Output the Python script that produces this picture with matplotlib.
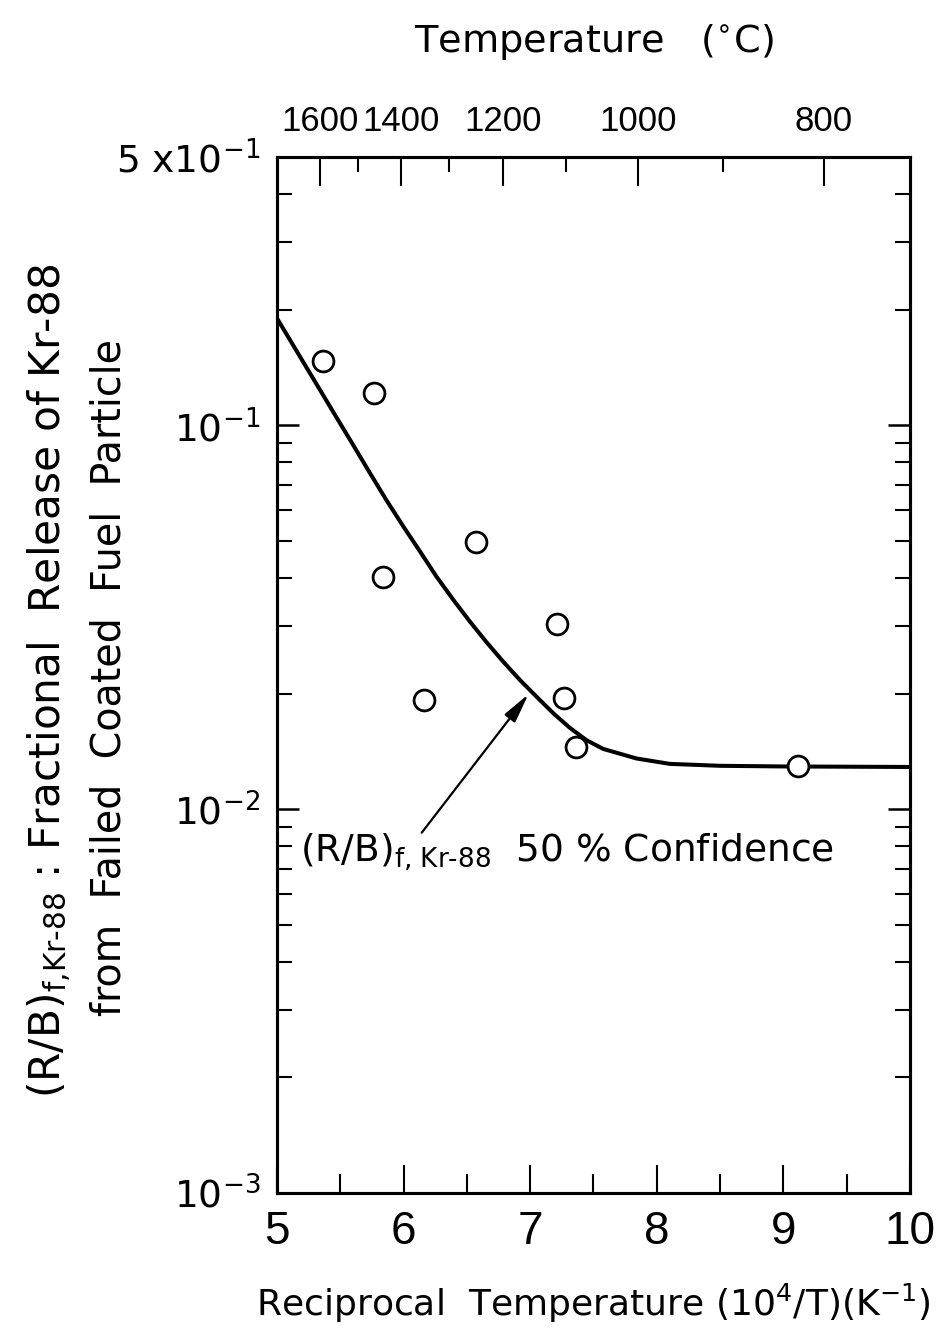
import numpy as np
import matplotlib
matplotlib.use("Agg")
import matplotlib.pyplot as plt
from matplotlib.ticker import LogLocator, NullFormatter, FixedLocator

plt.rcParams['font.family'] = ['DejaVu Sans']
plt.rcParams['mathtext.fontset'] = 'dejavusans'

# measured points (10^4/T, fractional release)
x_pts = [5.366, 5.769, 5.840, 6.161, 6.569, 7.209, 7.267, 7.362, 9.115]
y_pts = [0.1472, 0.1216, 0.0402, 0.01925, 0.0496, 0.0304, 0.01945, 0.01456, 0.01296]

# 50 % confidence curve
x_fit = [5.0, 5.208, 5.340, 5.471, 5.603, 5.735, 5.866, 5.998, 6.130, 6.261, 6.393,
         6.524, 6.656, 6.788, 6.919, 7.051, 7.182, 7.314, 7.446, 7.577, 7.841, 8.104,
         8.5, 9.0, 10.0]
y_fit = [0.1900, 0.1460, 0.1236, 0.1047, 0.0887, 0.0750, 0.0637, 0.0545, 0.0469, 0.0403,
         0.0351, 0.0308, 0.0272, 0.0242, 0.0217, 0.01962, 0.01778, 0.01628, 0.01512,
         0.01435, 0.01355, 0.01312, 0.01297, 0.01292, 0.01288]

# top axis temperatures (deg C)
temp_major = [1600, 1400, 1200, 1000, 800]
temp_minor = [1500, 1300, 1100, 900]

tick_font = ['Liberation Sans', 'DejaVu Sans']

fig = plt.figure(figsize=(9.38, 13.29), dpi=100)
ax = fig.add_axes([0.2953, 0.1023, 0.6748, 0.7796])

ax.plot(x_fit, y_fit, color='k', lw=2.9, solid_capstyle='butt', solid_joinstyle='round')
ax.plot(x_pts, y_pts, 'o', ms=15, mfc='white', mec='k', mew=2.0, zorder=3)

ax.set_yscale('log')
ax.set_xlim(5, 10)
ax.set_ylim(1e-3, 0.5)

ax.set_xticks([5, 6, 7, 8, 9, 10])
ax.set_xticklabels(['5', '6', '7', '8', '9', '10'], family=tick_font, fontsize=33)
ax.set_xticks([5.5, 6.5, 7.5, 8.5, 9.5], minor=True)

ax.set_yticks([1e-3, 1e-2, 1e-1, 0.5])
ax.set_yticklabels(['10$^{-3}$', '10$^{-2}$', '10$^{-1}$', '5 x10$^{-1}$'], fontsize=27)
ax.yaxis.set_minor_locator(LogLocator(base=10, subs=np.arange(2, 10)))
ax.yaxis.set_minor_formatter(NullFormatter())

ax.tick_params(axis='x', which='major', direction='in', length=20, width=1.5, pad=12, top=False)
ax.tick_params(axis='x', which='minor', direction='in', length=14, width=1.5, top=False)
ax.tick_params(axis='y', which='major', direction='in', length=16, width=1.8, pad=12, right=True)
ax.tick_params(axis='y', which='minor', direction='in', length=11, width=1.5, right=True)
for s in ax.spines.values():
    s.set_linewidth(2.2)

ax.set_xlabel('Reciprocal  Temperature (10$^{4}$/T)(K$^{-1}$)', fontsize=26, labelpad=20)

# top temperature axis
ax2 = ax.twiny()
ax2.set_xlim(ax.get_xlim())
ax2.set_xticks([1e4 / (t + 273.15) for t in temp_major])
ax2.set_xticklabels([str(t) for t in temp_major], family=tick_font, fontsize=25)
ax2.xaxis.set_minor_locator(FixedLocator([1e4 / (t + 273.15) for t in temp_minor]))
ax2.tick_params(axis='x', which='major', direction='in', length=21, width=1.5, pad=14)
ax2.tick_params(axis='x', which='minor', direction='in', length=11, width=1.5)
for s in ax2.spines.values():
    s.set_linewidth(2.2)
ax2.set_xlabel('Temperature   ($^{\\circ}$C)', fontsize=27.5, labelpad=38)

# annotation with arrow
ax.annotate('', xy=(7.0, 0.0202), xytext=(6.13, 0.00857),
            arrowprops=dict(arrowstyle='-|>,head_width=0.2,head_length=0.9',
                            color='k', lw=1.6, mutation_scale=20))
ax.text(5.18, 0.00773, '(R/B)$_{\\text{f, Kr-88}}$  50 % Confidence', fontsize=27,
        va='center', ha='left')

fig.text(0.0533, 0.488, '(R/B)$_{\\text{f,Kr-88}}$ : Fractional  Release of Kr-88',
         rotation=90, ha='center', va='center', fontsize=30.5)
fig.text(0.117, 0.490, 'from  Failed  Coated  Fuel  Particle',
         rotation=90, ha='center', va='center', fontsize=28.5)

fig.savefig('out.png', dpi=100, facecolor='white')
